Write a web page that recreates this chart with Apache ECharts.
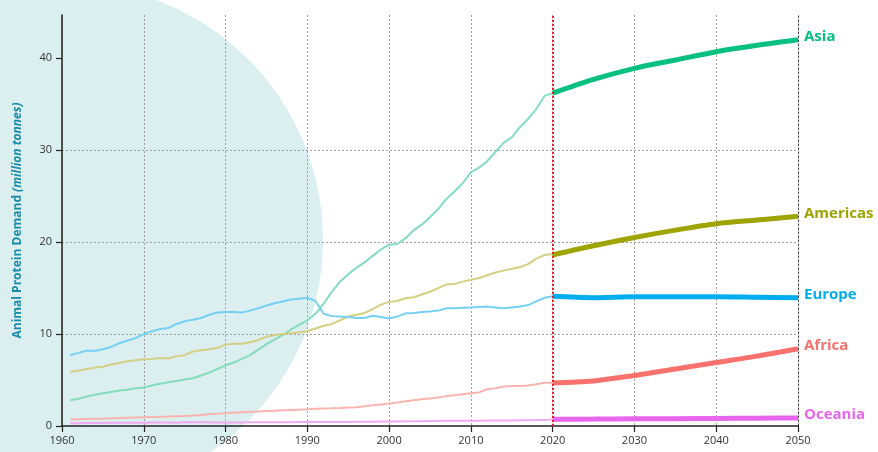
<!DOCTYPE html>
<html>
<head>
<meta charset="utf-8">
<script src="https://cdn.jsdelivr.net/npm/echarts@6/dist/echarts.min.js"></script>
<style>html,body{margin:0;padding:0;background:#fff}#c{width:878px;height:452px}</style>
</head>
<body>
<div id="c"></div>
<script>
const regions = ['Asia', 'Americas', 'Europe', 'Africa', 'Oceania'];
const histYears = Array.from({length: 60}, (_, i) => 1961 + i);
const projYears = [2020, 2025, 2030, 2035, 2040, 2045, 2050];

const asiaHist = [2.8,2.95,3.2,3.4,3.55,3.7,3.85,3.95,4.1,4.2,4.4,4.6,4.75,4.9,5.05,5.2,5.5,5.8,6.2,6.6,6.9,7.3,7.7,8.3,8.9,9.4,9.9,10.5,11.0,11.5,12.2,13.3,14.6,15.7,16.5,17.2,17.8,18.5,19.2,19.7,19.8,20.4,21.3,21.9,22.7,23.6,24.7,25.5,26.4,27.6,28.1,28.8,29.8,30.8,31.4,32.5,33.4,34.5,35.9,36.2];
const americasHist = [5.9,6.0,6.2,6.35,6.45,6.7,6.85,7.05,7.15,7.25,7.3,7.4,7.35,7.6,7.7,8.1,8.25,8.35,8.5,8.85,8.95,8.95,9.1,9.35,9.7,9.9,10.0,10.1,10.2,10.3,10.6,10.9,11.1,11.5,11.9,12.1,12.3,12.7,13.2,13.5,13.6,13.9,14.0,14.3,14.6,15.0,15.4,15.45,15.7,15.9,16.1,16.4,16.7,16.9,17.1,17.3,17.6,18.2,18.6,18.7];
const europeHist = [7.7,7.95,8.2,8.15,8.35,8.6,9.0,9.3,9.55,10.0,10.3,10.55,10.65,11.1,11.4,11.55,11.75,12.1,12.35,12.4,12.4,12.35,12.55,12.8,13.1,13.35,13.55,13.75,13.85,13.95,13.6,12.2,11.95,11.9,11.85,11.75,11.75,12.0,11.85,11.7,11.9,12.25,12.3,12.4,12.45,12.55,12.8,12.8,12.85,12.9,12.95,13.0,12.9,12.8,12.9,13.0,13.15,13.55,13.95,14.1];
const africaHist = [0.72,0.74,0.76,0.78,0.8,0.83,0.86,0.89,0.92,0.95,0.98,1.0,1.02,1.05,1.08,1.13,1.2,1.27,1.33,1.4,1.45,1.5,1.55,1.58,1.62,1.66,1.7,1.74,1.78,1.82,1.88,1.9,1.92,1.95,2.0,2.05,2.15,2.25,2.35,2.45,2.55,2.7,2.8,2.9,3.0,3.1,3.25,3.35,3.45,3.55,3.65,4.0,4.1,4.3,4.35,4.35,4.4,4.55,4.7,4.7];
const oceaniaHist = [0.3,0.31,0.32,0.32,0.33,0.34,0.34,0.35,0.36,0.36,0.37,0.37,0.37,0.36,0.4,0.41,0.4,0.4,0.39,0.38,0.38,0.39,0.4,0.41,0.42,0.42,0.42,0.42,0.43,0.43,0.43,0.43,0.43,0.44,0.44,0.45,0.46,0.47,0.48,0.49,0.5,0.51,0.52,0.53,0.54,0.55,0.56,0.56,0.57,0.58,0.58,0.59,0.6,0.6,0.61,0.62,0.63,0.64,0.65,0.7];

const asiaProj = [36.2,37.7,38.9,39.8,40.7,41.4,42.0];
const americasProj = [18.6,19.6,20.5,21.3,22.0,22.4,22.8];
const europeProj = [14.1,13.95,14.05,14.05,14.05,14.0,13.95];
const africaProj = [4.7,4.9,5.5,6.2,6.9,7.6,8.4];
const oceaniaProj = [0.73,0.75,0.78,0.8,0.82,0.85,0.87];

const xTicks = [1960,1970,1980,1990,2000,2010,2020,2030,2040,2050];
const yTicks = [0,10,20,30,40];
const yTop = 44.7;
const forecastStart = 2020;
const forecastEnd = 2050;

const hist = [asiaHist, americasHist, europeHist, africaHist, oceaniaHist];
const proj = [asiaProj, americasProj, europeProj, africaProj, oceaniaProj];
const histColors = ['#84dcbc', '#d4d083', '#77d0f4', '#f9b4ae', '#f1aaf2'];
const projColors = ['#06c07f', '#9ea400', '#00aeef', '#f8716c', '#e866ee'];

const pair = (xs, ys) => xs.map((x, i) => [x, ys[i]]);

const series = [];
regions.forEach((r, k) => {
  series.push({
    name: r + ' (historic)', type: 'line', data: pair(histYears, hist[k]),
    showSymbol: false, lineStyle: {width: 2, color: histColors[k]}, z: 3, silent: true
  });
});
regions.forEach((r, k) => {
  series.push({
    name: r, type: 'line', data: pair(projYears, proj[k]), smooth: 0.3,
    showSymbol: false, lineStyle: {width: 5, color: projColors[k]}, z: 4, silent: true,
    endLabel: {show: true, formatter: r, color: projColors[k], fontSize: 15, fontWeight: 'bold',
      fontFamily: 'Open Sans', distance: 6, offset: [0, -3]}
  });
});
// reference lines (forecast start and horizon)
series.push({
  name: 'ref', type: 'scatter', data: [[forecastStart, 0]], symbolSize: 0, silent: true, z: 6,
  markLine: {
    silent: true, symbol: ['none', 'none'], animation: false,
    label: {show: false},
    lineStyle: {color: '#ee1c25', width: 2, type: [2, 2]},
    data: [
      {xAxis: forecastStart},
      {xAxis: forecastEnd, lineStyle: {color: '#444', width: 1, type: [2, 2]}}
    ]
  }
});

const chart = echarts.init(document.getElementById('c'), null, {renderer: 'canvas'});
chart.setOption({
  animation: false,
  backgroundColor: '#fff',
  textStyle: {fontFamily: 'Open Sans'},
  graphic: [{type: 'circle', shape: {cx: 67, cy: 240, r: 256}, style: {fill: '#dbeff0'}, z: -10, silent: true}],
  grid: {left: 62, right: 80, top: 15, bottom: 26, containLabel: false},
  xAxis: {
    type: 'value', min: 1960, max: 2050, interval: 10,
    axisLine: {show: true, lineStyle: {color: '#222', width: 1.5}},
    axisTick: {show: true, length: 6, lineStyle: {color: '#222', width: 1.2}, customValues: xTicks},
    axisLabel: {color: '#333', fontSize: 11, margin: 9, customValues: xTicks, formatter: v => String(v)},
    splitLine: {show: true, lineStyle: {color: '#a0a0a0', type: [2, 2], width: 1}}
  },
  yAxis: {
    type: 'value', min: 0, max: yTop, interval: 10,
    name: '{a|Animal Protein Demand} {b|(million tonnes)}',
    nameLocation: 'middle', nameGap: 38, nameRotate: 90,
    nameTextStyle: {
      rich: {
        a: {color: '#1b8aa6', fontSize: 12, fontWeight: 'bold', fontFamily: 'Open Sans'},
        b: {color: '#1b8aa6', fontSize: 12, fontStyle: 'italic', fontWeight: 'bold', fontFamily: 'Open Sans'}
      }
    },
    axisLine: {show: true, lineStyle: {color: '#222', width: 1.5}},
    axisTick: {show: true, length: 6, lineStyle: {color: '#222', width: 1.2}, customValues: yTicks},
    axisLabel: {color: '#333', fontSize: 11, margin: 10, customValues: yTicks},
    splitLine: {show: true, showMaxLine: false, showMinLine: false, lineStyle: {color: '#a0a0a0', type: [2, 2], width: 1}}
  },
  series: series
});
</script>
</body>
</html>
